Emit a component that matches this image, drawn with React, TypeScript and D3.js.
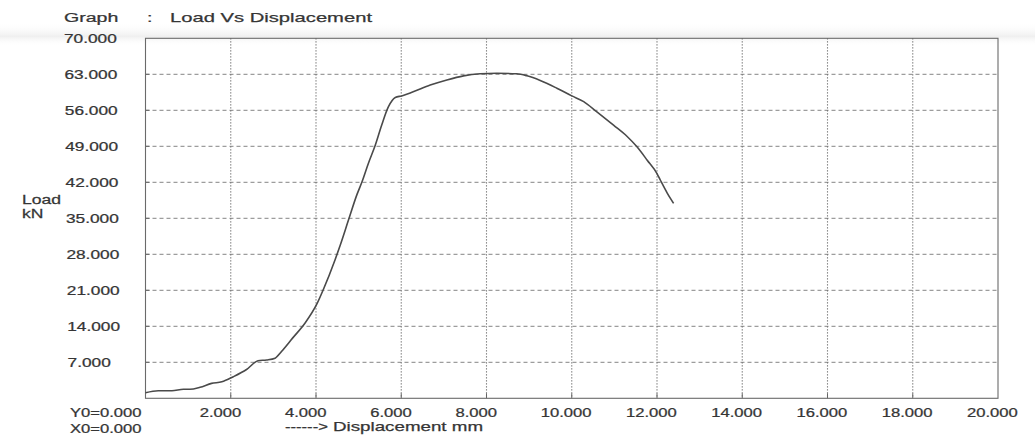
import React from "react";
import * as d3 from "d3";

// Data
const displacement = [0.0, 0.3, 0.62, 0.89, 1.04, 1.28, 1.55, 1.79, 2.06, 2.37, 2.64, 2.84, 3.04, 3.19, 3.45, 3.74, 4.03, 4.17, 4.45, 4.57, 4.76, 4.96, 5.08, 5.23, 5.39, 5.54, 5.7, 5.86, 6.01, 6.28, 6.68, 7.07, 7.46, 7.85, 8.24, 8.71, 8.95, 9.26, 9.65, 10.0, 10.28, 10.59, 10.98, 11.3, 11.53, 11.77, 12.0, 12.08, 12.24, 12.39];
const load = [1.09, 1.48, 1.48, 1.75, 1.75, 2.14, 2.9, 3.2, 4.2, 5.6, 7.3, 7.45, 7.8, 9.1, 11.7, 14.6, 18.5, 21.1, 27.0, 29.8, 34.6, 39.6, 42.1, 45.7, 49.2, 53.1, 56.7, 58.5, 58.8, 59.6, 60.9, 61.9, 62.7, 63.1, 63.2, 63.1, 62.7, 61.8, 60.3, 58.8, 57.7, 55.7, 53.1, 50.9, 48.9, 46.3, 43.7, 42.4, 39.9, 37.9];
const yTicks = [7, 14, 21, 28, 35, 42, 49, 56, 63, 70];
const xTicks = [2, 4, 6, 8, 10, 12, 14, 16, 18, 20];
const titleLabel = "Graph";
const titleText = "Load Vs Displacement";
const yTitle = ["Load", "kN"];
const xTitle = "Displacement  mm";
const originLabels = ["Y0=0.000", "X0=0.000"];

const W = 1035;
const H = 438;
const FONT = "'Liberation Sans', Arial, sans-serif";
const TEXT = "#353535";

function SText({ x, y, sx = 1.4, size = 12.5, children, anchor = "start" }: any) {
  return (
    <text
      transform={`translate(${x},${y}) scale(${sx},1)`}
      fontFamily={FONT}
      fontSize={size}
      fill={TEXT}
      stroke={TEXT}
      strokeWidth={0.25}
      textAnchor={anchor}
    >
      {children}
    </text>
  );
}

export default function App() {
  const x = d3.scaleLinear().domain([0, 20]).range([145.5, 998]);
  const y = d3.scaleLinear().domain([0, 70]).range([398.3, 38.3]);
  const pts = displacement.map((d, i) => [d, load[i]] as [number, number]);
  const line = d3
    .line<[number, number]>()
    .x((d) => x(d[0]))
    .y((d) => y(d[1]))
    .curve(d3.curveMonotoneX);

  const [x0, x1] = x.range();
  const [y0, y1] = y.range();

  return (
    <svg
      width={W}
      height={H}
      style={{ position: "absolute", left: 0, top: 0, background: "#fff" }}
    >
      <defs>
        <linearGradient id="scan" x1="0" y1="0" x2="0" y2="1">
          <stop offset="0" stopColor="#fff" stopOpacity="0" />
          <stop offset="0.6" stopColor="#d8d8d8" stopOpacity="0.4" />
          <stop offset="1" stopColor="#fff" stopOpacity="0" />
        </linearGradient>
      </defs>
      <rect x={0} y={0} width={W} height={H} fill="#fff" />
      <rect x={0} y={22} width={W} height={24} fill="url(#scan)" />

      {/* horizontal dashed grid */}
      {yTicks.filter((t) => t < 70).map((t) => (
        <g key={"h" + t}>
          <line x1={x0} x2={x1} y1={y(t)} y2={y(t)} stroke="#777" strokeWidth={0.9} strokeDasharray="4,3" />
          <line x1={x0} x2={x0 + 4} y1={y(t)} y2={y(t)} stroke="#666" strokeWidth={1} />
        </g>
      ))}
      {/* vertical dotted grid */}
      {xTicks.filter((t) => t < 20).map((t) => (
        <g key={"v" + t}>
          <line x1={x(t)} x2={x(t)} y1={y1} y2={y0} stroke="#6e6e6e" strokeWidth={1.1} strokeDasharray="1.3,1.7" />
          <line x1={x(t)} x2={x(t)} y1={y0 - 5} y2={y0} stroke="#666" strokeWidth={1} />
        </g>
      ))}
      {/* frame */}
      <rect x={x0} y={y1} width={x1 - x0} height={y0 - y1} fill="none" stroke="#6a6a6a" strokeWidth={1.1} />

      {/* curve */}
      <path d={line(pts) || ""} fill="none" stroke="#4a4a4a" strokeWidth={1.6} strokeLinejoin="round" />

      {/* title */}
      <SText x={64} y={21.5} sx={1.45} size={13.5}>{titleLabel}</SText>
      <SText x={147} y={21.5} sx={1.45} size={13.5}>:</SText>
      <text x={170} y={21.5} fontFamily={FONT} fontSize={13.5} fill={TEXT} stroke={TEXT} strokeWidth={0.25} textLength={202} lengthAdjust="spacingAndGlyphs">
        {titleText}
      </text>

      {/* y tick labels */}
      {yTicks.map((t) => (
        <SText key={"yl" + t} x={64 + (70 - t) / 70 * 4} y={y(t) + 4.7} sx={1.33} size={13}>
          {d3.format(".3f")(t)}
        </SText>
      ))}
      <SText x={22} y={203.5} sx={1.3} size={13.5}>{yTitle[0]}</SText>
      <SText x={22} y={218} sx={1.3} size={13.5}>{yTitle[1]}</SText>

      {/* x tick labels */}
      {xTicks.map((t) => (
        <SText key={"xl" + t} x={x(t) - 31} y={417} sx={1.33} size={12.5}>
          {d3.format(".3f")(t)}
        </SText>
      ))}
      <SText x={70} y={417} sx={1.33} size={12.5}>{originLabels[0]}</SText>
      <SText x={70} y={433} sx={1.33} size={12.5}>{originLabels[1]}</SText>
      <SText x={285} y={431} sx={1.33} size={12.5}>------&gt;</SText>
      <text x={333} y={431} fontFamily={FONT} fontSize={13.5} fill={TEXT} stroke={TEXT} strokeWidth={0.25} textLength={150} lengthAdjust="spacingAndGlyphs">
        {xTitle}
      </text>
    </svg>
  );
}
